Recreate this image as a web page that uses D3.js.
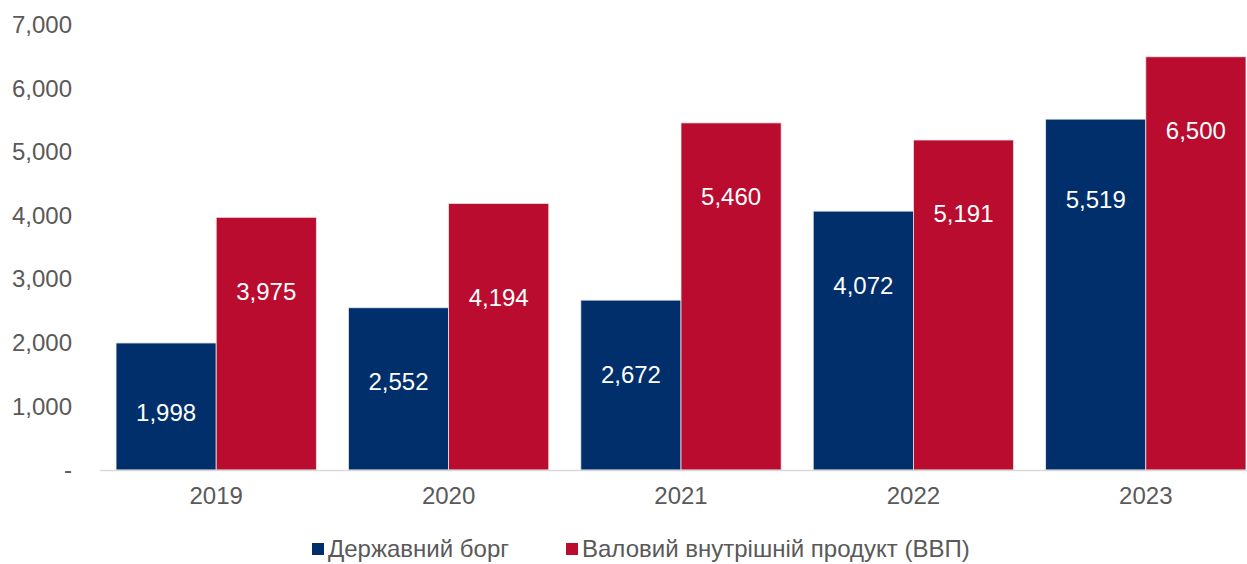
<!DOCTYPE html>
<html>
<head>
<meta charset="utf-8">
<script src="https://cdn.jsdelivr.net/npm/d3@7"></script>
<style>
  body { margin: 0; background: #fff; }
  text { font-family: "Liberation Sans", Arial, sans-serif; }
</style>
</head>
<body>
<div id="chart"></div>
<script>
// data
var years = ["2019", "2020", "2021", "2022", "2023"];
var debt = [1998, 2552, 2672, 4072, 5519];
var gdp = [3975, 4194, 5460, 5191, 6500];
var seriesNames = ["Державний борг", "Валовий внутрішній продукт (ВВП)"];
var seriesColors = ["#002F6C", "#BA0C2F"];
var yTicks = [0, 1000, 2000, 3000, 4000, 5000, 6000, 7000];

var W = 1247, H = 564;
var plot = {left: 100, right: 1262, top: 25, bottom: 470};
var fontSize = "24px";
var labelDrop = 74;          // value labels sit this far below the bar top
var labelNudge = {"1-2020": 20, "0-2019": -4, "0-2023": 6};  // hand tweaks, like the original

var svg = d3.select("#chart").append("svg")
	.attr("width", W)
	.attr("height", H);

var x = d3.scaleBand().domain(years).range([plot.left, plot.right]).paddingInner(0.138).paddingOuter(0.069);
var inner = d3.scaleBand().domain([0, 1]).range([0, x.bandwidth()]);
var y = d3.scaleLinear().domain([0, 7000]).range([plot.bottom, plot.top]);

var fmt = d3.format(",");

// y axis labels
var yAxis = d3.axisLeft(y).tickValues(yTicks).tickSize(0).tickPadding(0)
	.tickFormat(function(d){ return d === 0 ? "-" : fmt(d); });
var yg = svg.append("g").attr("transform", "translate(72,0)").call(yAxis);
yg.select(".domain").remove();
yg.selectAll("text").attr("fill", "#595959").style("font-size", fontSize)
	.attr("font-family", "Liberation Sans, Arial, sans-serif");

// bars
var groups = svg.selectAll(".yr").data(years).enter().append("g")
	.attr("transform", function(d){ return "translate(" + x(d) + ",0)"; });

[debt, gdp].forEach(function(vals, s){
	groups.append("rect")
		.attr("x", inner(s))
		.attr("width", inner.bandwidth())
		.attr("y", function(d, i){ return y(vals[i]); })
		.attr("height", function(d, i){ return y(0) - y(vals[i]); })
		.attr("fill", seriesColors[s])
		.attr("stroke", "#e8e8e8")
		.attr("stroke-width", 0.8);
	groups.append("text")
		.attr("x", inner(s) + inner.bandwidth() / 2)
		.attr("y", function(d, i){ return y(vals[i]) + labelDrop + (labelNudge[s + "-" + d] || 0); })
		.attr("dy", "0.35em")
		.attr("text-anchor", "middle")
		.attr("fill", "#fff")
		.style("font-size", fontSize)
		.text(function(d, i){ return fmt(vals[i]); });
});

// x axis
svg.append("line")
	.attr("x1", plot.left).attr("x2", W)
	.attr("y1", plot.bottom + 0.5).attr("y2", plot.bottom + 0.5)
	.attr("stroke", "#d9d9d9").attr("stroke-width", 1.5);

var xAxis = d3.axisBottom(x).tickSize(0).tickPadding(17);
var xg = svg.append("g").attr("transform", "translate(0," + plot.bottom + ")").call(xAxis);
xg.select(".domain").remove();
xg.selectAll("text").attr("fill", "#595959").style("font-size", fontSize)
	.attr("font-family", "Liberation Sans, Arial, sans-serif");

// legend
var legendX = [312, 566];
var leg = svg.selectAll(".leg").data(seriesNames).enter().append("g")
	.attr("transform", function(d, i){ return "translate(" + legendX[i] + ",549)"; });
leg.append("rect").attr("x", 0).attr("y", -6).attr("width", 12).attr("height", 12)
	.attr("fill", function(d, i){ return seriesColors[i]; });
leg.append("text").attr("x", 16).attr("dy", "0.35em")
	.attr("fill", "#595959").style("font-size", fontSize)
	.text(function(d){ return d; });
</script>
</body>
</html>
